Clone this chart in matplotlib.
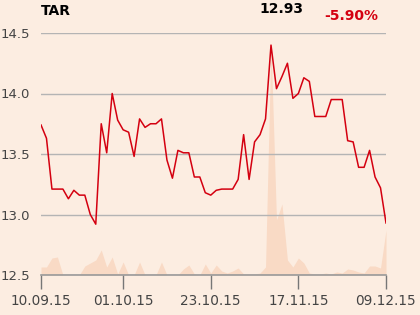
import matplotlib.pyplot as plt

# closing prices, one per trading day
price = [13.74, 13.63, 13.21, 13.21, 13.21, 13.13, 13.20, 13.16, 13.16, 13.00,
         12.92, 13.75, 13.51, 14.00, 13.78, 13.70, 13.68, 13.48, 13.79, 13.72,
         13.75, 13.75, 13.79, 13.45, 13.30, 13.53, 13.51, 13.51, 13.31, 13.31,
         13.18, 13.16, 13.20, 13.21, 13.21, 13.21, 13.29, 13.66, 13.29, 13.60,
         13.66, 13.79, 14.40, 14.04, 14.14, 14.25, 13.96, 14.00, 14.13, 14.10,
         13.81, 13.81, 13.81, 13.95, 13.95, 13.95, 13.61, 13.60, 13.39, 13.39,
         13.53, 13.31, 13.22, 12.93]

# traded volume (relative units)
volume = [8, 8, 17, 18, 0, 0, 0, 0, 9, 12,
          15, 25, 8, 18, 1, 13, 0, 0, 13, 0,
          0, 0, 13, 0, 0, 0, 6, 10, 1, 0,
          11, 2, 10, 4, 2, 4, 7, 1, 1, 1,
          2, 8, 231, 55, 71, 15, 8, 17, 12, 2,
          1, 1, 2, 1, 3, 2, 6, 5, 3, 2,
          9, 9, 7, 45]

tick_idx = [0, 15, 31, 47, 63]
tick_labels = ["10.09.15", "01.10.15", "23.10.15", "17.11.15", "09.12.15"]
y_ticks = [12.5, 13.0, 13.5, 14.0, 14.5]

bg = "#fcede1"
x = list(range(len(price)))

fig = plt.figure(figsize=(4.2, 3.15), dpi=100, facecolor=bg)
ax = fig.add_axes([41 / 420, 1 - 275 / 315, 345 / 420, 242 / 315])
ax2 = ax.twinx()

# volume behind the price line
ax2.fill_between(x, volume, 0, color="#f9dac5", linewidth=0)
ax2.set_ylim(0, 242)
ax2.set_yticks([])
for s in ax2.spines.values():
    s.set_visible(False)
ax2.set_facecolor(bg)

ax.set_zorder(ax2.get_zorder() + 1)
ax.patch.set_visible(False)

ax.plot(x, price, color="#d40010", linewidth=1.1, zorder=3)
ax.set_xlim(0, len(price) - 1)
ax.set_ylim(12.5, 14.5)
ax.set_yticks(y_ticks)
ax.set_yticklabels([f"{v:.1f}" for v in y_ticks])
ax.set_xticks(tick_idx)
ax.set_xticklabels(tick_labels)
ax.grid(axis="y", color="#b4b4b4", linewidth=1)
ax.set_axisbelow(True)

for side in ["left", "right", "top"]:
    ax.spines[side].set_visible(False)
ax.spines["bottom"].set_color("#9a9a9a")
ax.spines["bottom"].set_linewidth(1.2)

ax.tick_params(axis="y", length=0, pad=8, labelsize=9.5, labelcolor="#444444")
ax.tick_params(axis="x", length=10, width=1, color="#777777", pad=4,
               labelsize=9.8, labelcolor="#444444")

fig.text(41 / 420, 1 - 11 / 315, "TAR", fontsize=10, fontweight="bold",
         color="black", va="center", ha="left")
fig.text(281 / 420, 1 - 9 / 315, "12.93", fontsize=10, fontweight="bold",
         color="black", va="center", ha="center")
fig.text(378 / 420, 1 - 16 / 315, "-5.90%", fontsize=10, fontweight="bold",
         color="#d40010", va="center", ha="right")

fig.savefig("out.png", dpi=100, facecolor=bg)
